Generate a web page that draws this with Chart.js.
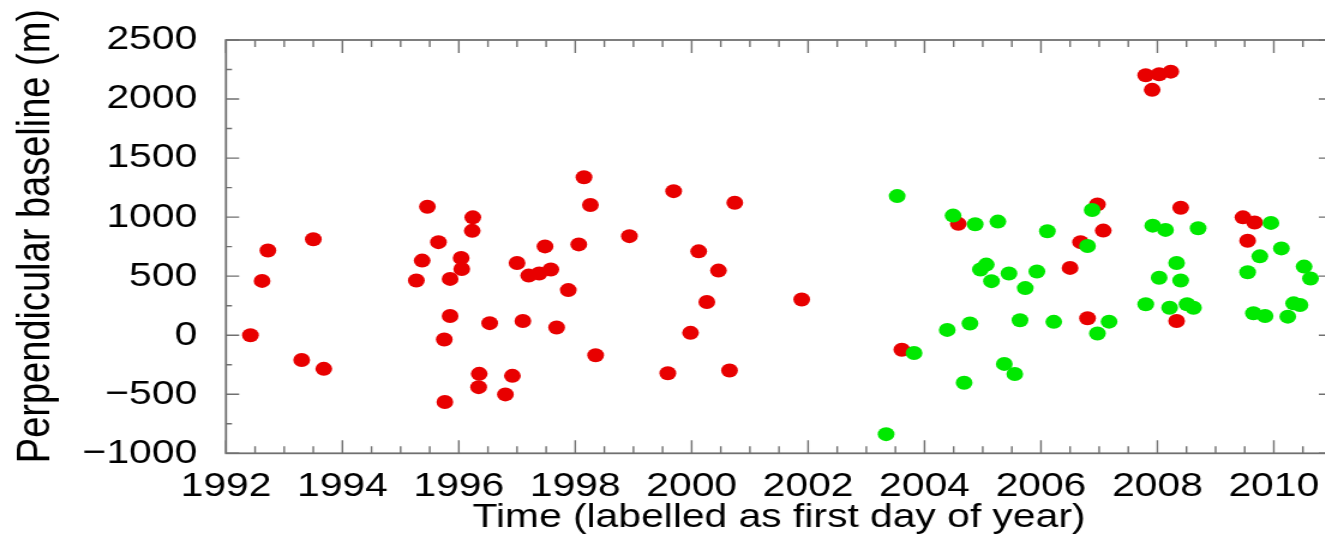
<!DOCTYPE html>
<html>
<head>
<meta charset="utf-8">
<script src="https://cdn.jsdelivr.net/npm/chart.js@4.4.1/dist/chart.umd.min.js"></script>
<style>
    html, body { margin: 0; padding: 0; background: #fff; overflow: hidden; }
    #baselineChart { transform: scaleX(1.2); transform-origin: 0 0; }
</style>
</head>
<body>
<canvas id="baselineChart" width="1117" height="543"></canvas>
<script>
// acquisition times (decimal year) and perpendicular baselines (m)
const redTimes = [
    1992.42, 1992.62, 1992.72, 1993.30, 1993.50, 1993.68,
    1995.27, 1995.37, 1995.46, 1995.65, 1995.76, 1995.75, 1995.85, 1995.85,
    1996.04, 1996.05, 1996.24, 1996.23, 1996.35, 1996.34, 1996.53, 1996.92, 1996.80,
    1997.00, 1997.10, 1997.20, 1997.38, 1997.58, 1997.48, 1997.68, 1997.88,
    1998.06, 1998.15, 1998.26, 1998.35, 1998.93, 1999.69, 1999.59, 1999.98,
    2000.12, 2000.74, 2000.46, 2000.26, 2000.65, 2001.89,
    2003.61, 2004.58, 2006.50, 2006.68, 2006.80, 2006.97, 2007.07,
    2007.80, 2008.03, 2008.23, 2007.91, 2008.40, 2008.33,
    2009.47, 2009.67, 2009.55
];
const redBaselines = [
    0, 460, 718, -210, 813, -285,
    463, 632, 1088, 788, -566, -36, 163, 477,
    654, 561, 998, 884, -327, -440, 102, -344, -501,
    612, 121, 505, 522, 556, 752, 65, 382,
    769, 1338, 1103, -170, 839, 1220, -322, 20,
    710, 1122, 547, 281, -299, 303,
    -123, 943, 570, 788, 144, 1108, 886,
    2201, 2210, 2232, 2078, 1080, 121,
    998, 954, 800
];
const greenTimes = [
    2003.34, 2003.53, 2003.82, 2004.39, 2004.49, 2004.68, 2004.78, 2004.87, 2004.96,
    2005.06, 2005.15, 2005.26, 2005.37, 2005.55, 2005.45, 2005.64, 2005.73, 2005.93,
    2006.11, 2006.22, 2006.80, 2006.88, 2006.97, 2007.17,
    2007.92, 2008.14, 2008.70, 2008.33, 2008.03, 2008.40, 2007.80, 2008.21, 2008.51, 2008.62,
    2009.95, 2010.13, 2009.76, 2009.55, 2010.52, 2010.63, 2010.34, 2010.45, 2010.24, 2009.65, 2009.85
];
const greenBaselines = [
    -838, 1178, -151, 45, 1013, -403, 99, 940, 556,
    598, 458, 962, -243, -328, 522, 127, 399, 539,
    881, 113, 755, 1060, 14, 115,
    928, 892, 906, 612, 486, 463, 262, 233, 262, 233,
    951, 735, 668, 533, 581, 480, 270, 256, 157, 186, 163
];

const xTickValues = [1992, 1994, 1996, 1998, 2000, 2002, 2004, 2006, 2008, 2010];
const yTickValues = [-1000, -500, 0, 500, 1000, 1500, 2000, 2500];

const fontFamily = '"Liberation Sans", Arial, Helvetica, sans-serif';

function toPoints(times, values) {
    return times.map((t, i) => ({ x: t, y: values[i] }));
}

// gnuplot-style frame with inward ticks on all four sides
const frameTicks = {
    id: 'frameTicks',
    beforeDatasetsDraw(chart) {
        const { ctx, chartArea: a, scales } = chart;
        const xs = scales.x, ys = scales.y;
        ctx.save();
        ctx.strokeStyle = '#707070';
        ctx.lineWidth = 1.4;
        for (let v = xs.min; v <= xs.max + 1e-9; v += 0.5) {
            const px = xs.getPixelForValue(v);
            const len = Math.abs(v - Math.round(v / 2) * 2) < 1e-6 ? 13 : 7;
            ctx.beginPath();
            ctx.moveTo(px, a.bottom); ctx.lineTo(px, a.bottom - len);
            ctx.moveTo(px, a.top); ctx.lineTo(px, a.top + len);
            ctx.stroke();
        }
        for (let v = ys.min; v <= ys.max + 1e-9; v += 250) {
            const py = ys.getPixelForValue(v);
            const len = v % 500 === 0 ? 11 : 5;
            ctx.beginPath();
            ctx.moveTo(a.left, py); ctx.lineTo(a.left + len, py);
            ctx.moveTo(a.right, py); ctx.lineTo(a.right - len, py);
            ctx.stroke();
        }
        ctx.lineWidth = 1.8;
        ctx.strokeRect(a.left, a.top, a.right - a.left, a.bottom - a.top);
        ctx.restore();
    }
};

const ctx = document.getElementById('baselineChart').getContext('2d');
new Chart(ctx, {
    type: 'scatter',
    data: {
        datasets: [
            {
                label: 'green',
                data: toPoints(greenTimes, greenBaselines),
                backgroundColor: 'rgb(0, 232, 0)',
                borderWidth: 0,
                pointRadius: 7
            },
            {
                label: 'red',
                data: toPoints(redTimes, redBaselines),
                backgroundColor: 'rgb(232, 0, 0)',
                borderWidth: 0,
                pointRadius: 7
            }
        ]
    },
    options: {
        responsive: false,
        animation: false,
        devicePixelRatio: 1,
        layout: { padding: { left: 0, top: 40, right: 2.4, bottom: 0 } },
        plugins: {
            legend: { display: false },
            tooltip: { enabled: false }
        },
        scales: {
            x: {
                type: 'linear',
                min: 1992,
                max: 2011,
                grid: { display: false, drawTicks: false },
                border: { display: false },
                afterBuildTicks: scale => { scale.ticks = xTickValues.map(v => ({ value: v })); },
                afterFit: scale => { scale.height = 89.7; },
                ticks: {
                    padding: 12.5,
                    maxRotation: 0,
                    autoSkip: false,
                    color: '#000',
                    font: { family: fontFamily, size: 34 },
                    callback: value => String(value)
                },
                title: {
                    display: true,
                    text: 'Time (labelled as first day of year)',
                    color: '#000',
                    font: { family: fontFamily, size: 34 },
                    padding: { top: 0, bottom: 5 }
                }
            },
            y: {
                type: 'linear',
                min: -1000,
                max: 2500,
                grid: { display: false, drawTicks: false },
                border: { display: false },
                afterBuildTicks: scale => { scale.ticks = yTickValues.map(v => ({ value: v })); },
                afterFit: scale => {
                    scale.width = 188.3;
                    scale.paddingTop = 0;
                    scale.paddingBottom = 0;
                },
                ticks: {
                    padding: 24,
                    autoSkip: false,
                    color: '#000',
                    font: { family: fontFamily, size: 34 },
                    callback: value => value < 0 ? '\u2212' + Math.abs(value) : String(value)
                },
                title: {
                    display: true,
                    text: '  Perpendicular baseline (m)',
                    color: '#000',
                    font: { family: fontFamily, size: 38 },
                    padding: { top: 8, bottom: 0 }
                }
            }
        }
    },
    plugins: [frameTicks]
});
</script>
</body>
</html>
